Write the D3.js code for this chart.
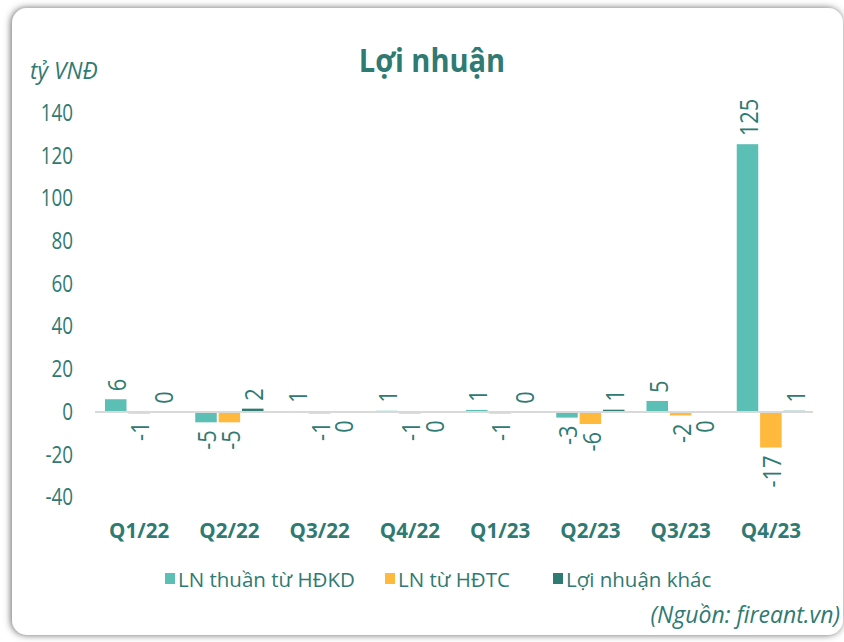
<!DOCTYPE html>
<html>
<head>
<meta charset="utf-8">
<script src="https://cdn.jsdelivr.net/npm/d3@7"></script>
<style>
  body { margin: 0; background: #fff; }
  svg { display: block; font-family: "Open Sans", sans-serif; }
</style>
</head>
<body>
<div id="vis"></div>
<script>
var quarters = ['Q1/22', 'Q2/22', 'Q3/22', 'Q4/22', 'Q1/23', 'Q2/23', 'Q3/23', 'Q4/23'];
var seriesNames = ['LN thuần từ HĐKD', 'LN từ HĐTC', 'Lợi nhuận khác'];
var lnHdkd = [6.0, -4.8, 0.5, 0.6, 1.0, -2.6, 5.2, 125.4];
var lnHdtc = [-0.7, -4.8, -0.7, -0.7, -0.7, -5.6, -1.6, -16.6];
var lnKhac = [0.1, 1.6, -0.1, -0.1, 0.1, 1.1, -0.1, 0.6];
var yTicks = [-40, -20, 0, 20, 40, 60, 80, 100, 120, 140];

var width = 844;
var height = 642;
var textColor = '#2f7a72';
var fillColor = d3.scaleOrdinal()
  .domain(seriesNames)
  .range(['#5cbfb6', '#ffb93d', '#2e7b71']);

var svg = d3.select('#vis')
  .append('svg')
  .attr('width', width)
  .attr('height', height);

// card with soft shadow
var defs = svg.append('defs');
var filter = defs.append('filter').attr('id', 'shadow')
  .attr('x', '-5%').attr('y', '-5%').attr('width', '110%').attr('height', '110%');
filter.append('feDropShadow')
  .attr('dx', -1).attr('dy', 0)
  .attr('stdDeviation', 3.5)
  .attr('flood-color', '#666')
  .attr('flood-opacity', 1);

svg.append('rect')
  .attr('x', 12).attr('y', 8)
  .attr('width', 831).attr('height', 627)
  .attr('rx', 15)
  .attr('fill', '#fff')
  .attr('filter', 'url(#shadow)');

// text helper: condensed look via horizontal scale in reading direction
function addText(x, y, str, o) {
  var g = svg.append('g')
    .attr('transform', 'translate(' + x + ',' + y + ')' +
      (o.rotate ? ' rotate(' + o.rotate + ')' : '') +
      ' scale(' + (o.sx || 1) + ',1)');
  return g.append('text')
    .attr('text-anchor', o.anchor || 'start')
    .attr('dominant-baseline', o.baseline || 'auto')
    .attr('font-size', o.size)
    .attr('font-weight', o.weight || 400)
    .attr('font-style', o.style || 'normal')
    .attr('fill', textColor)
    .text(str);
}

var data = quarters.map(function (q, i) {
  return { quarter: q, values: [lnHdkd[i], lnHdtc[i], lnKhac[i]] };
});

var x0 = d3.scaleBand().domain(quarters).range([94, 816]);
var x1 = d3.scaleBand().domain(seriesNames)
  .range([11, x0.bandwidth() - 11])
  .paddingInner(0.08);
var y = d3.scaleLinear().domain([-40, 140]).range([497.5, 113]);

// y axis
var yAxis = svg.append('g')
  .attr('transform', 'translate(73,0)')
  .call(d3.axisLeft(y).tickValues(yTicks).tickSize(0).tickFormat(function (d) { return String(d); }));
yAxis.select('.domain').remove();
yAxis.selectAll('text')
  .attr('font-family', '"Open Sans", sans-serif')
  .attr('font-size', 23)
  .attr('fill', textColor)
  .attr('x', 0)
  .attr('transform', 'scale(0.82,1)');

// bars
var groups = svg.selectAll('.group')
  .data(data)
  .enter().append('g')
  .attr('class', 'group')
  .attr('transform', function (d) { return 'translate(' + x0(d.quarter) + ',0)'; });

groups.selectAll('rect')
  .data(function (d) {
    return d.values.map(function (v, i) { return { name: seriesNames[i], value: v }; });
  })
  .enter().append('rect')
  .attr('x', function (d) { return x1(d.name); })
  .attr('y', function (d) { return y(Math.max(0, d.value)); })
  .attr('width', x1.bandwidth())
  .attr('height', function (d) { return Math.abs(y(d.value) - y(0)); })
  .attr('fill', function (d) { return fillColor(d.name); });

// zero line
svg.append('line')
  .attr('x1', 95).attr('x2', 813)
  .attr('y1', y(0)).attr('y2', y(0))
  .attr('stroke', '#d9d9d9')
  .attr('stroke-width', 2);

// data labels
data.forEach(function (d) {
  d.values.forEach(function (v, i) {
    var cx = x0(d.quarter) + x1(seriesNames[i]) + x1.bandwidth() / 2;
    var r = Math.round(v);
    var label = r === 0 ? '0' : String(r);
    if (v >= 0) {
      addText(cx, y(v) - 8, label, { rotate: -90, anchor: 'start', baseline: 'central', size: 26, sx: 0.84 });
    } else {
      addText(cx, y(v) + 8, label, { rotate: -90, anchor: 'end', baseline: 'central', size: 26, sx: 0.84 });
    }
  });
});

// category labels
quarters.forEach(function (q) {
  addText(x0(q) + x0.bandwidth() / 2, 538, q, { anchor: 'middle', size: 21, weight: 700, sx: 0.98 });
});

// title and unit
addText(432, 72, 'Lợi nhuận', { anchor: 'middle', size: 33, weight: 700, sx: 0.88 });
addText(30, 79, 'tỷ VNĐ', { size: 23, style: 'italic', sx: 0.99 });

// legend
var legendX = [165, 385, 553];
seriesNames.forEach(function (name, i) {
  svg.append('rect')
    .attr('x', legendX[i]).attr('y', 573)
    .attr('width', 10).attr('height', 11)
    .attr('fill', fillColor(name));
  addText(legendX[i] + 13, 587, name, { size: 20.5, sx: 1 });
});

// source
addText(840, 623, '(Nguồn: fireant.vn)', { anchor: 'end', size: 23.5, style: 'italic', sx: 0.98 });
</script>
</body>
</html>
